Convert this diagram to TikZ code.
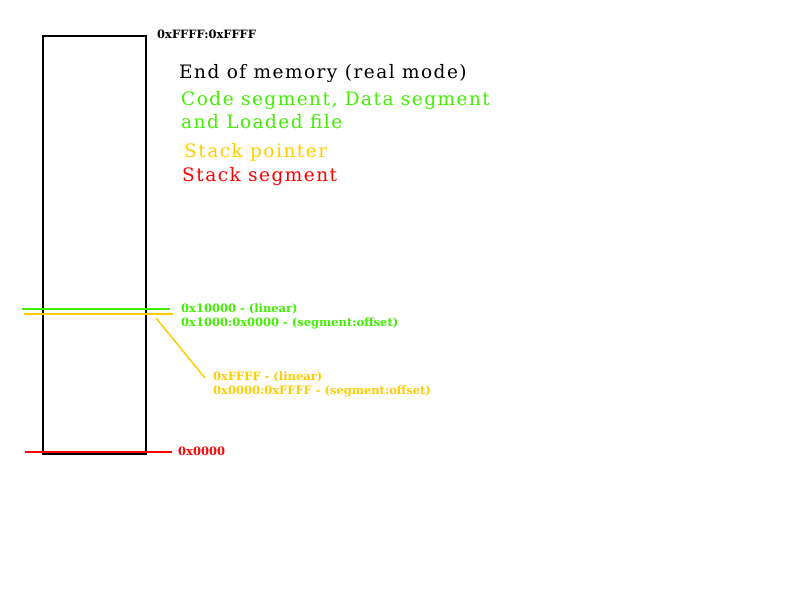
\documentclass[tikz,border=0pt]{standalone}
\usepackage{fontspec}
\setmainfont{DejaVu Serif}
\newfontfamily\bigfont[LetterSpace=8]{DejaVu Serif}
\definecolor{lgreen}{RGB}{64,240,0}
\definecolor{lyellow}{RGB}{255,204,0}
\definecolor{lred}{RGB}{255,0,0}
\begin{document}
\begin{tikzpicture}[x=1pt,y=-1pt,
  big/.style={anchor=west,inner sep=0pt,font=\bigfont\fontsize{18.5}{23}\selectfont,align=left},
  small/.style={anchor=west,inner sep=0pt,font=\fontsize{11.5}{14}\selectfont\bfseries,align=left},
  mark line/.style={line width=1.5pt}]
\useasboundingbox (0,0) rectangle (800,600);
\node[draw,line width=2pt,minimum width=103pt,minimum height=418pt,anchor=north west,inner sep=0pt] (mem) at (42,34.5) {};
\coordinate (g1) at (22,309); \coordinate (g2) at (170,309);
\coordinate (y1) at (24,314); \coordinate (y2) at (173,314);
\coordinate (r1) at (25,452); \coordinate (r2) at (172,452);
\coordinate (d1) at (156,318); \coordinate (d2) at (205,378);
\draw[mark line,lgreen] (g1) -- (g2);
\draw[mark line,lyellow] (y1) -- (y2);
\draw[mark line,lred] (r1) -- (r2);
\draw[mark line,lyellow] (d1) -- (d2);
\node[small] (top) at (157,34) {0xFFFF:0xFFFF};
\node[big] (end) at (179,74) {End of memory (real mode)};
\node[big,text=lgreen] (code) at (181,110.5) {Code segment, Data segment\\and Loaded file};
\node[big,text=lyellow] (sp) at (184,152) {Stack pointer};
\node[big,text=lred] (ss) at (182,177) {Stack segment};
\node[small,text=lgreen] (lin1) at (181,316) {0x10000 - (linear)\\0x1000:0x0000 - (segment:offset)};
\node[small,text=lyellow] (lin2) at (213,384) {0xFFFF - (linear)\\0x0000:0xFFFF - (segment:offset)};
\node[small,text=lred] (zero) at (178,451) {0x0000};
\end{tikzpicture}
\end{document}
